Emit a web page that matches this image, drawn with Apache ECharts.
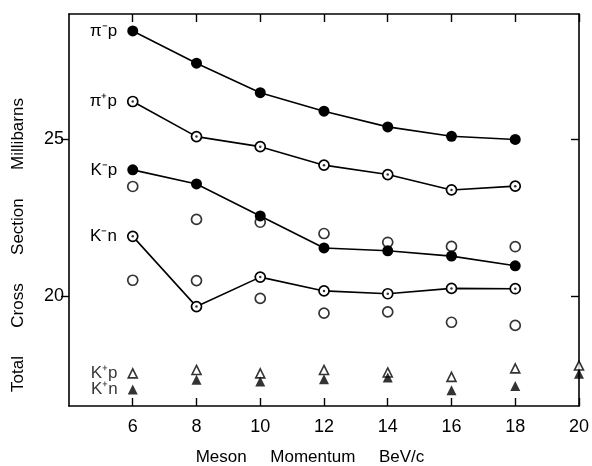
<!DOCTYPE html>
<html>
<head>
<meta charset="utf-8">
<script src="https://cdn.jsdelivr.net/npm/echarts@6/dist/echarts.min.js"></script>
<style>
  html, body { margin: 0; padding: 0; background: #fff; }
  #chart { width: 592px; height: 466px; }
</style>
</head>
<body>
<div id="chart"></div>
<script>
// momentum (BeV/c)
const momentum = [6, 8, 10, 12, 14, 16, 18];
const momentumKplus = [6, 8, 10, 12, 14, 16, 18, 20];

// total cross sections, millibarns
const piMinusP = [28.46, 27.43, 26.49, 25.9, 25.4, 25.1, 25.0];
const piPlusP = [26.21, 25.09, 24.77, 24.18, 23.88, 23.39, 23.51];
const kMinusP = [24.03, 23.58, 22.56, 21.54, 21.45, 21.28, 20.97];
const kMinusN = [21.91, 19.67, 20.61, 20.17, 20.08, 20.25, 20.24];
const kMinusPOther = [23.5, 22.45, 22.36, 22.0, 21.72, 21.59, 21.58];
const kMinusNOther = [20.51, 20.5, 19.93, 19.46, 19.5, 19.17, 19.07];
const kPlusP = [17.54, 17.65, 17.54, 17.65, 17.57, 17.43, 17.70, 17.79];
const kPlusN = [17.03, 17.34, 17.28, 17.35, 17.41, 17.0, 17.14, 17.53];

const xTicks = [6, 8, 10, 12, 14, 16, 18, 20];
const yTicks = [20, 25];

const font = 'Liberation Sans';

const pts = (xs, ys, name) => xs.map((x, i) => {
  const d = { value: [x, ys[i]] };
  if (name && i === 0) {
    d.label = {
      show: true, position: 'left', distance: 10, formatter: name,
      color: '#000', fontSize: 17, fontFamily: font
    };
  }
  return d;
});

const lineSeries = (xs, ys, name, filled) => ({
  type: 'line',
  data: pts(xs, ys, name),
  symbol: 'circle',
  symbolSize: filled ? 11 : 10,
  showSymbol: true,
  lineStyle: { color: '#000', width: 1.6 },
  itemStyle: { color: filled ? '#000' : '#fff', borderColor: '#000', borderWidth: filled ? 0 : 1.7 },
  z: 3
});

const centreDots = (xs, ys) => ({
  type: 'scatter',
  data: pts(xs, ys),
  symbol: 'circle',
  symbolSize: 2.5,
  itemStyle: { color: '#000' },
  z: 5
});

const chart = echarts.init(document.getElementById('chart'));
chart.setOption({
  animation: false,
  backgroundColor: '#fff',
  grid: { left: 69, right: 13, top: 14, bottom: 60 },
  xAxis: [{
    type: 'value', min: 4, max: 20,
    axisLine: { lineStyle: { color: '#000', width: 1.6 } },
    axisTick: { inside: true, length: 8, customValues: xTicks, lineStyle: { color: '#000', width: 1.4 } },
    axisLabel: { customValues: xTicks, color: '#000', fontSize: 18, fontFamily: font, margin: 12 },
    splitLine: { show: false }
  }, {
    type: 'value', min: 4, max: 20, position: 'top',
    axisLine: { lineStyle: { color: '#000', width: 1.6 } },
    axisTick: { inside: true, length: 8, customValues: xTicks, lineStyle: { color: '#000', width: 1.4 } },
    axisLabel: { show: false },
    splitLine: { show: false }
  }],
  yAxis: [{
    type: 'value', min: 16.5, max: 29,
    axisLine: { show: true, lineStyle: { color: '#000', width: 1.6 } },
    axisTick: { show: true, length: 8, customValues: yTicks, lineStyle: { color: '#000', width: 1.4 } },
    axisLabel: { customValues: yTicks, color: '#000', fontSize: 18, fontFamily: font, margin: 5 },
    splitLine: { show: false }
  }, {
    type: 'value', min: 16.5, max: 29, position: 'right',
    axisLine: { show: true, lineStyle: { color: '#000', width: 1.6 } },
    axisTick: { show: true, inside: true, length: 8, customValues: yTicks, lineStyle: { color: '#000', width: 1.4 } },
    axisLabel: { show: false },
    splitLine: { show: false }
  }],
  series: [
    lineSeries(momentum, piMinusP, 'π⁻p', true),
    lineSeries(momentum, piPlusP, 'π⁺p', false),
    centreDots(momentum, piPlusP),
    lineSeries(momentum, kMinusP, 'K⁻p', true),
    lineSeries(momentum, kMinusN, 'K⁻n', false),
    centreDots(momentum, kMinusN),
    {
      type: 'scatter', data: pts(momentum, kMinusPOther),
      symbol: 'circle', symbolSize: 10,
      itemStyle: { color: 'rgba(255,255,255,0)', borderColor: '#000', borderWidth: 1.7 }, z: 2
    },
    {
      type: 'scatter', data: pts(momentum, kMinusNOther),
      symbol: 'circle', symbolSize: 10,
      itemStyle: { color: 'rgba(255,255,255,0)', borderColor: '#000', borderWidth: 1.7 }, z: 2
    },
    {
      type: 'scatter', data: pts(momentumKplus, kPlusP, 'K⁺p'),
      symbol: 'triangle', symbolSize: 9,
      itemStyle: { color: '#fff', borderColor: '#000', borderWidth: 1.6 }, z: 2
    },
    {
      type: 'scatter', data: pts(momentumKplus, kPlusN, 'K⁺n'),
      symbol: 'triangle', symbolSize: 10,
      itemStyle: { color: '#000' }, z: 4
    }
  ],
  graphic: [{
    type: 'text', x: 18, y: 245, rotation: Math.PI / 2,
    style: {
      text: 'Total      Cross      Section      Millibarns',
      fill: '#000', fontSize: 17, fontFamily: font,
      align: 'center', verticalAlign: 'middle'
    }
  }, {
    type: 'text', x: 310, y: 457,
    style: {
      text: 'Meson     Momentum     BeV/c',
      fill: '#000', fontSize: 17, fontFamily: font,
      align: 'center', verticalAlign: 'middle'
    }
  }]
});
</script>
</body>
</html>
